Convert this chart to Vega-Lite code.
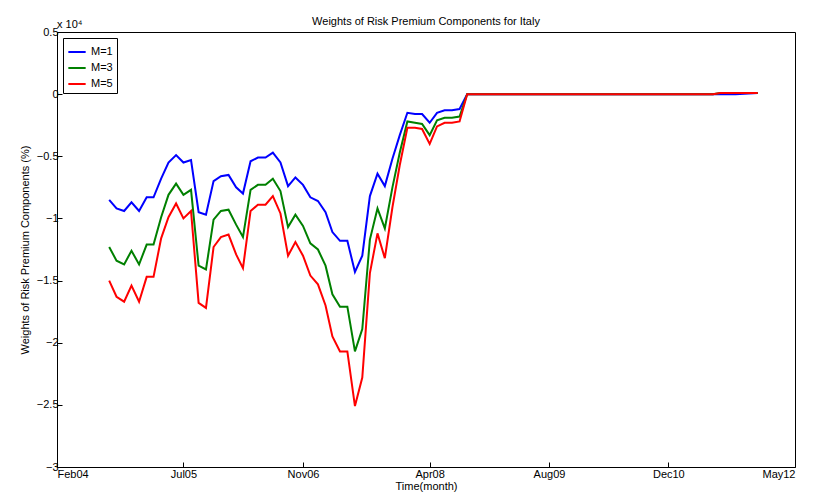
{
  "$schema": "https://vega.github.io/schema/vega-lite/v6.json",
  "width": 738,
  "height": 435,
  "autosize": {"type": "none"},
  "padding": {"left": 57, "top": 32, "right": 19, "bottom": 35},
  "background": "white",
  "config": {
    "font": "Liberation Sans",
    "view": {"stroke": "black", "strokeWidth": 1},
    "axis": {"grid": false, "domain": false, "tickColor": "black", "tickSize": -5, "labelColor": "black", "labelFontSize": 11, "titleFontSize": 11, "titleFontWeight": "normal", "titleColor": "black"}
  },
  "title": {"text": "Weights of Risk Premium Components for Italy", "fontSize": 11, "fontWeight": "normal", "offset": -8},
  "data": {
    "values": [
      {"d": "2004-09-01", "m1": -0.85, "m3": -1.23, "m5": -1.50},
      {"d": "2004-10-01", "m1": -0.92, "m3": -1.34, "m5": -1.63},
      {"d": "2004-11-01", "m1": -0.94, "m3": -1.37, "m5": -1.67},
      {"d": "2004-12-01", "m1": -0.87, "m3": -1.26, "m5": -1.54},
      {"d": "2005-01-01", "m1": -0.94, "m3": -1.37, "m5": -1.67},
      {"d": "2005-02-01", "m1": -0.83, "m3": -1.21, "m5": -1.47},
      {"d": "2005-03-01", "m1": -0.83, "m3": -1.21, "m5": -1.47},
      {"d": "2005-04-01", "m1": -0.68, "m3": -0.99, "m5": -1.16},
      {"d": "2005-05-01", "m1": -0.55, "m3": -0.81, "m5": -0.99},
      {"d": "2005-06-01", "m1": -0.49, "m3": -0.72, "m5": -0.88},
      {"d": "2005-07-01", "m1": -0.55, "m3": -0.81, "m5": -1.00},
      {"d": "2005-08-01", "m1": -0.53, "m3": -0.77, "m5": -0.94},
      {"d": "2005-09-01", "m1": -0.95, "m3": -1.38, "m5": -1.68},
      {"d": "2005-10-01", "m1": -0.97, "m3": -1.41, "m5": -1.72},
      {"d": "2005-11-01", "m1": -0.70, "m3": -1.01, "m5": -1.23},
      {"d": "2005-12-01", "m1": -0.66, "m3": -0.94, "m5": -1.15},
      {"d": "2006-01-01", "m1": -0.65, "m3": -0.93, "m5": -1.13},
      {"d": "2006-02-01", "m1": -0.75, "m3": -1.05, "m5": -1.29},
      {"d": "2006-03-01", "m1": -0.80, "m3": -1.15, "m5": -1.40},
      {"d": "2006-04-01", "m1": -0.54, "m3": -0.77, "m5": -0.94},
      {"d": "2006-05-01", "m1": -0.51, "m3": -0.73, "m5": -0.89},
      {"d": "2006-06-01", "m1": -0.51, "m3": -0.73, "m5": -0.89},
      {"d": "2006-07-01", "m1": -0.47, "m3": -0.68, "m5": -0.82},
      {"d": "2006-08-01", "m1": -0.55, "m3": -0.78, "m5": -0.96},
      {"d": "2006-09-01", "m1": -0.74, "m3": -1.07, "m5": -1.30},
      {"d": "2006-10-01", "m1": -0.67, "m3": -0.97, "m5": -1.19},
      {"d": "2006-11-01", "m1": -0.73, "m3": -1.06, "m5": -1.30},
      {"d": "2006-12-01", "m1": -0.83, "m3": -1.20, "m5": -1.46},
      {"d": "2007-01-01", "m1": -0.86, "m3": -1.25, "m5": -1.53},
      {"d": "2007-02-01", "m1": -0.95, "m3": -1.38, "m5": -1.70},
      {"d": "2007-03-01", "m1": -1.11, "m3": -1.61, "m5": -1.95},
      {"d": "2007-04-01", "m1": -1.18, "m3": -1.71, "m5": -2.07},
      {"d": "2007-05-01", "m1": -1.18, "m3": -1.71, "m5": -2.07},
      {"d": "2007-06-01", "m1": -1.43, "m3": -2.07, "m5": -2.51},
      {"d": "2007-07-01", "m1": -1.30, "m3": -1.89, "m5": -2.28},
      {"d": "2007-08-01", "m1": -0.82, "m3": -1.17, "m5": -1.44},
      {"d": "2007-09-01", "m1": -0.64, "m3": -0.92, "m5": -1.12},
      {"d": "2007-10-01", "m1": -0.74, "m3": -1.08, "m5": -1.32},
      {"d": "2007-11-01", "m1": -0.52, "m3": -0.75, "m5": -0.91},
      {"d": "2007-12-01", "m1": -0.33, "m3": -0.47, "m5": -0.57},
      {"d": "2008-01-01", "m1": -0.15, "m3": -0.22, "m5": -0.27},
      {"d": "2008-02-01", "m1": -0.16, "m3": -0.23, "m5": -0.27},
      {"d": "2008-03-01", "m1": -0.16, "m3": -0.24, "m5": -0.28},
      {"d": "2008-04-01", "m1": -0.23, "m3": -0.33, "m5": -0.40},
      {"d": "2008-05-01", "m1": -0.15, "m3": -0.21, "m5": -0.26},
      {"d": "2008-06-01", "m1": -0.13, "m3": -0.19, "m5": -0.23},
      {"d": "2008-07-01", "m1": -0.13, "m3": -0.19, "m5": -0.23},
      {"d": "2008-08-01", "m1": -0.12, "m3": -0.18, "m5": -0.22},
      {"d": "2008-09-01", "m1": 0.0, "m3": 0.0, "m5": 0.0},
      {"d": "2008-10-01", "m1": 0.0, "m3": 0.0, "m5": 0.0},
      {"d": "2008-12-01", "m1": 0.0, "m3": 0.0, "m5": 0.0},
      {"d": "2009-03-01", "m1": 0.0, "m3": 0.0, "m5": 0.0},
      {"d": "2009-06-01", "m1": 0.0, "m3": 0.0, "m5": 0.0},
      {"d": "2009-09-01", "m1": 0.0, "m3": 0.0, "m5": 0.0},
      {"d": "2009-12-01", "m1": 0.0, "m3": 0.0, "m5": 0.0},
      {"d": "2010-03-01", "m1": 0.0, "m3": 0.0, "m5": 0.0},
      {"d": "2010-06-01", "m1": 0.0, "m3": 0.0, "m5": 0.0},
      {"d": "2010-09-01", "m1": 0.0, "m3": 0.0, "m5": 0.0},
      {"d": "2010-12-01", "m1": 0.0, "m3": 0.0, "m5": 0.0},
      {"d": "2011-03-01", "m1": 0.0, "m3": 0.0, "m5": 0.0},
      {"d": "2011-06-01", "m1": 0.0, "m3": 0.0, "m5": 0.0},
      {"d": "2011-07-01", "m1": 0.0, "m3": 0.01, "m5": 0.01},
      {"d": "2011-09-01", "m1": 0.0, "m3": 0.01, "m5": 0.01},
      {"d": "2011-12-01", "m1": 0.01, "m3": 0.01, "m5": 0.01}
    ]
  },
  "layer": [
    {
      "transform": [{"fold": ["m1", "m3", "m5"], "as": ["series", "value"]}],
      "mark": {"type": "line", "strokeWidth": 2, "clip": true},
      "encoding": {
        "x": {"field": "d", "type": "temporal", "scale": {"type": "utc", "domain": ["2004-02-01", "2012-05-01"]},
          "axis": {"title": "Time(month)", "titlePadding": 1, "labelExpr": "utcFormat(datum.value, '%b%y')", "values": ["2004-02-01", "2005-07-01", "2006-11-01", "2008-04-01", "2009-08-01", "2010-12-01", "2012-05-01"], "labelPadding": 6}},
        "y": {"field": "value", "type": "quantitative", "scale": {"domain": [-3, 0.5], "nice": false},
          "axis": {"title": "Weights of Risk Premium Components (%)", "values": [-3, -2.5, -2, -1.5, -1, -0.5, 0, 0.5], "format": "~g", "labelPadding": 4, "titlePadding": 6}},
        "color": {"field": "series", "type": "nominal",
          "scale": {"domain": ["m1", "m3", "m5"], "range": ["#0000ff", "#008000", "#ff0000"]},
          "legend": {"title": null, "orient": "top-left", "offset": 6, "labelExpr": "datum.value == 'm1' ? 'M=1' : datum.value == 'm3' ? 'M=3' : 'M=5'", "symbolType": "stroke", "symbolStrokeWidth": 2, "symbolSize": 300, "strokeColor": "black", "fillColor": "white", "padding": 4, "labelFontSize": 11, "labelColor": "black", "rowPadding": 1}}
      }
    },
    {
      "data": {"values": [{"t": "x 10⁴"}]},
      "mark": {"type": "text", "align": "left", "baseline": "bottom", "dy": -2, "fontSize": 11, "clip": false},
      "encoding": {
        "x": {"datum": "2004-02-01", "type": "temporal"},
        "y": {"datum": 0.5, "type": "quantitative"},
        "text": {"field": "t"}
      }
    }
  ]
}
